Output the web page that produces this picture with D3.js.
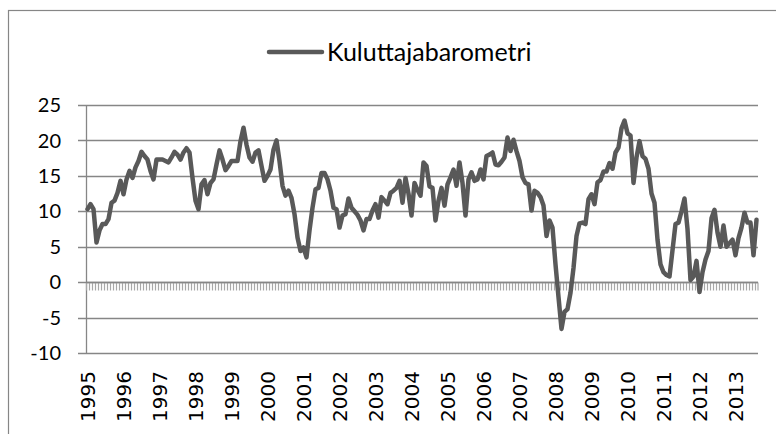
<!DOCTYPE html>
<html><head><meta charset="utf-8">
<script src="https://cdn.jsdelivr.net/npm/d3@7"></script>
<style>body{margin:0;background:#fff}svg{display:block}</style>
</head><body>
<svg id="c" width="776" height="434"></svg>
<script>
const seriesName = "Kuluttajabarometri";
const years = [1995,1996,1997,1998,1999,2000,2001,2002,2003,2004,2005,2006,2007,2008,2009,2010,2011,2012,2013];
const yTicks = [-10,-5,0,5,10,15,20,25];
const values1995 = [10.3,11.0,10.3,5.6,7.3,8.2,8.2,8.9,11.2,11.5,12.6,14.3];
const values1996 = [12.4,14.5,15.7,14.7,16.2,17.1,18.4,17.8,17.3,15.7,14.5,17.3];
const values1997 = [17.3,17.3,17.1,16.9,17.6,18.4,18.0,17.3,18.3,18.9,18.3,14.7];
const values1998 = [11.5,10.3,13.8,14.4,12.4,14.0,14.5,16.6,18.6,17.3,15.8,16.4];
const values1999 = [17.1,17.1,17.1,19.9,21.8,19.4,17.6,17.0,18.3,18.6,16.4,14.3];
const values2000 = [15.0,15.9,18.7,20.0,17.1,13.6,12.2,12.9,11.9,9.6,6.3,4.4];
const values2001 = [4.9,3.5,7.3,10.5,13.1,13.3,15.4,15.4,14.5,12.9,10.5,10.3];
const values2002 = [7.7,9.4,9.6,11.8,10.5,10.0,9.5,8.7,7.3,8.9,8.9,10.1];
const values2003 = [11.0,9.1,12.0,11.5,11.0,12.6,12.9,13.3,14.3,11.2,14.7,12.5];
const values2004 = [9.4,14.0,13.0,12.2,16.9,16.4,13.5,13.3,8.7,11.5,13.3,10.8];
const values2005 = [13.8,14.8,15.9,13.6,16.9,14.0,9.4,14.5,15.5,14.3,14.5,15.9];
const values2006 = [14.5,17.8,18.0,18.3,16.6,16.5,17.0,17.6,20.4,18.5,20.1,18.5];
const values2007 = [17.1,14.8,14.0,13.8,10.1,12.9,12.6,12.0,10.8,6.5,8.7,7.7];
const values2008 = [2.5,-2.1,-6.6,-4.2,-3.8,-1.5,2.0,6.5,8.3,8.4,8.2,11.7];
const values2009 = [12.4,11.0,14.1,14.4,15.6,15.6,16.8,16.0,18.3,19.0,21.7,22.8];
const values2010 = [21.0,20.7,14.0,17.6,19.9,17.8,17.4,16.0,12.5,11.2,6.0,2.5];
const values2011 = [1.4,1.0,0.8,4.5,8.2,8.4,10.0,11.8,7.5,0.3,0.8,3.0];
const values2012 = [-1.4,1.4,3.2,4.4,9.0,10.2,7.0,5.0,8.0,5.0,5.5,6.0];
const values2013 = [3.8,6.2,7.7,9.8,8.4,8.4,3.8,8.8];

const values = [].concat(values1995,values1996,values1997,values1998,values1999,values2000,values2001,
  values2002,values2003,values2004,values2005,values2006,values2007,values2008,values2009,values2010,
  values2011,values2012,values2013);
const categories = values.map((v,i)=> `${years[Math.floor(i/12)]}-${String(i%12+1).padStart(2,"0")}`);
const data = categories.map((c,i)=>({c, v: values[i]}));

const svg = d3.select("#c");
const L = 86, R = 758, T = 105, B = 353;
const x = d3.scaleBand().domain(categories).range([L, R]).padding(0);
const y = d3.scaleLinear().domain([-10, 25]).range([B, T]);
const grid = "#868686";

// chart border
svg.append("rect").attr("x",8.5).attr("y",10.5).attr("width",900).attr("height",600)
  .attr("fill","none").attr("stroke",grid).attr("stroke-width",1.2);

// gridlines + y ticks
svg.append("g").selectAll("line").data(yTicks).join("line")
  .attr("x1", L-8).attr("x2", R)
  .attr("y1", d=>Math.round(y(d))+0.5).attr("y2", d=>Math.round(y(d))+0.5)
  .attr("stroke", grid).attr("stroke-width", 1.3);

// y axis line
svg.append("line").attr("x1",L+0.5).attr("x2",L+0.5).attr("y1",T).attr("y2",B+1)
  .attr("stroke",grid).attr("stroke-width",1.3);

// y labels
svg.append("g").selectAll("text").data(yTicks).join("text")
  .attr("x", 61).attr("y", d=>y(d)).attr("dy","0.36em")
  .attr("text-anchor","end").attr("font-family","Lato, 'Open Sans', sans-serif")
  .attr("font-size",20).attr("fill","#000").text(d=>d);

// category ticks on zero axis
const y0 = Math.round(y(0))+0.5;
svg.append("g").selectAll("line").data(categories.concat(["__end"])).join("line")
  .attr("x1", d=> d==="__end" ? R : x(d)+0.5)
  .attr("x2", d=> d==="__end" ? R : x(d)+0.5)
  .attr("y1", y0).attr("y2", y0+8)
  .attr("stroke","#a8a8a8").attr("stroke-width",1.2);
svg.append("line").attr("x1",L).attr("x2",R).attr("y1",y0).attr("y2",y0)
  .attr("stroke",grid).attr("stroke-width",1.3);

// year labels
const yearCats = categories.filter(c=>c.endsWith("-01"));
svg.append("g").selectAll("text").data(yearCats).join("text")
  .attr("transform", d=>`translate(${x(d)+x.bandwidth()/2},371) rotate(-90)`)
  .attr("text-anchor","end").attr("dy","0.36em")
  .attr("font-family","'DejaVu Sans', sans-serif").attr("font-size",20).attr("fill","#000")
  .text(d=>d.slice(0,4));

// line
const line = d3.line().x(d=>x(d.c)+x.bandwidth()/2).y(d=>y(d.v)).curve(d3.curveLinear);
svg.append("path").datum(data).attr("d",line).attr("fill","none")
  .attr("stroke","#595959").attr("stroke-width",4.5)
  .attr("stroke-linejoin","round").attr("stroke-linecap","round");

// legend
svg.append("line").attr("x1",269).attr("x2",322).attr("y1",52).attr("y2",52)
  .attr("stroke","#595959").attr("stroke-width",4.5).attr("stroke-linecap","round");
svg.append("text").attr("x",327).attr("y",52).attr("dy","0.36em")
  .attr("font-family","Lato, 'Open Sans', sans-serif").attr("font-size",25).attr("fill","#000")
  .text(seriesName);
</script>
</body></html>
